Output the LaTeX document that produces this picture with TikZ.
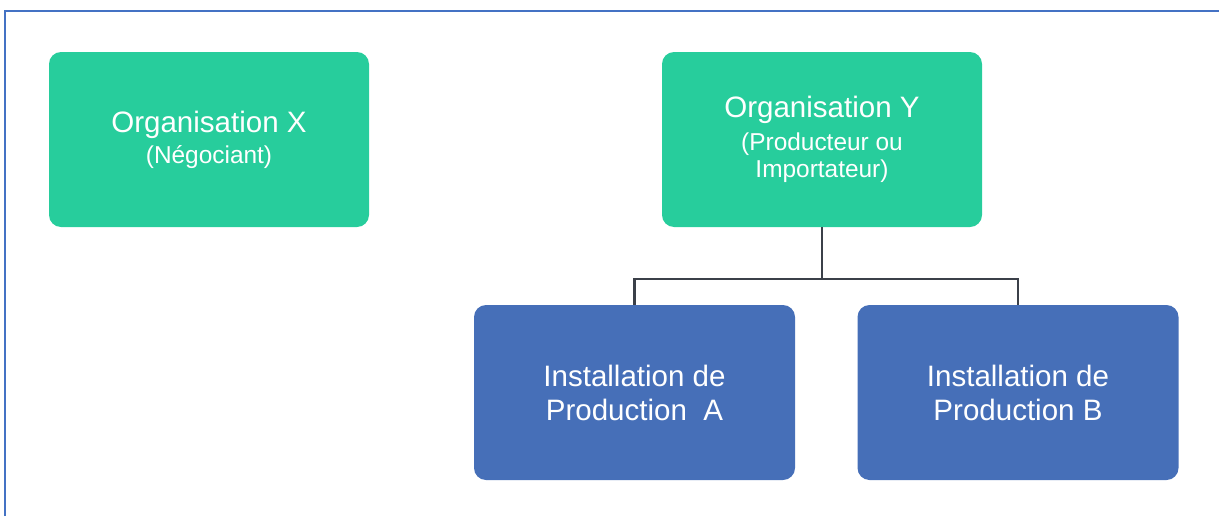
\documentclass[tikz,border=0pt]{standalone}
\usepackage{fontspec}
\setmainfont{Liberation Sans}
\usetikzlibrary{positioning}

\definecolor{orggreen}{HTML}{27CD9C}
\definecolor{prodblue}{HTML}{466FB8}
\definecolor{framblue}{HTML}{4472C4}
\definecolor{linkgray}{HTML}{3B4049}

\begin{document}
\begin{tikzpicture}[x=1cm,y=1cm]
\tikzset{
  orgbox/.style={rectangle,rounded corners=0.24cm,fill=orggreen,text=white,
    minimum width=6.4cm,minimum height=3.5cm,align=center,inner sep=2pt,
    font=\fontsize{13.9}{15.6}\selectfont},
  prodbox/.style={rectangle,rounded corners=0.24cm,fill=prodblue,text=white,
    minimum width=6.42cm,minimum height=3.5cm,align=center,inner sep=2pt,
    font=\fontsize{16.8}{19.3}\selectfont},
  link/.style={draw=linkgray,line width=1.4pt},
  frame/.style={draw=framblue,line width=0.9pt}
}
\useasboundingbox (0,0) rectangle (24.38,10.32);
% outer frame, only its top and left edges are in view
\draw[frame] (0.1,0) -- (0.1,10.1) -- (24.38,10.1);

\node[orgbox] (n_orgX) at (4.18,7.53)
  {{\fontsize{16.8}{19.3}\selectfont Organisation X}\\[2pt](Négociant)};
\node[orgbox] (n_orgY) at (16.44,7.53)
  {{\fontsize{16.8}{19.3}\selectfont Organisation Y}\\[3pt](Producteur ou\\Importateur)};
\node[prodbox] (n_prodA) at (12.69,2.47) {Installation de\\Production\ \ A};
\node[prodbox] (n_prodB) at (20.36,2.47) {Installation de\\Production B};

% tree connector below Y
\coordinate (c_fork) at (n_orgY.south |- 0,4.74);
\draw[link] (n_orgY.south) -- (c_fork);
\draw[link] (n_prodA.north) |- (c_fork) -| (n_prodB.north);
\end{tikzpicture}
\end{document}
